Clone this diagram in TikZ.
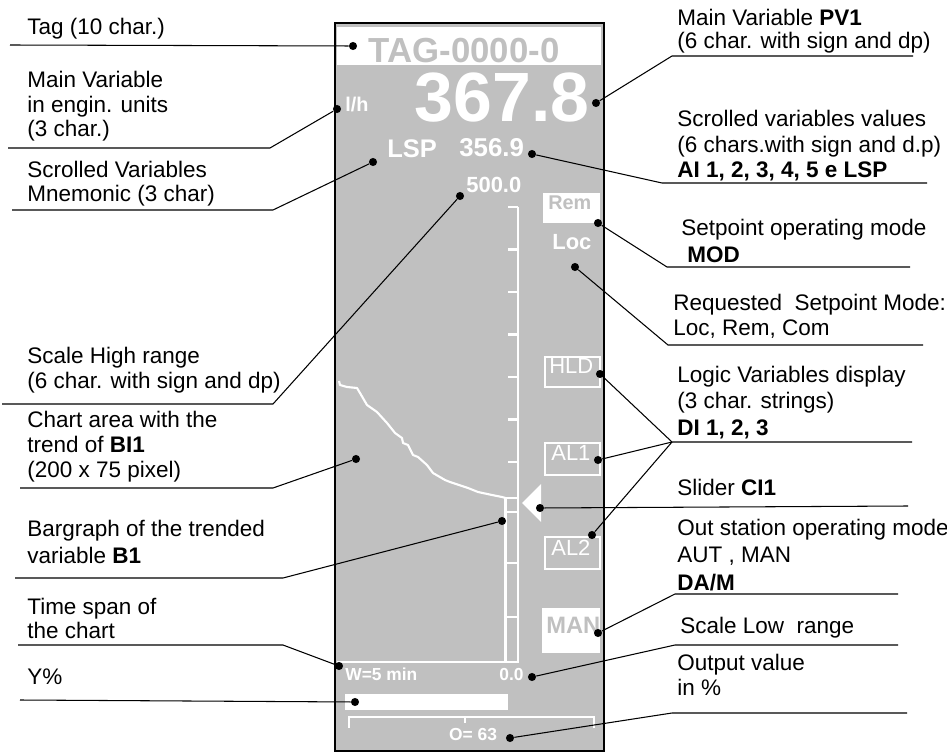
\documentclass[tikz,border=0pt]{standalone}
\usepackage{fontspec}
\setmainfont{Liberation Sans}
\definecolor{panelgrey}{RGB}{192,192,192}
\newcommand{\fsz}[1]{\fontsize{#1}{#1}\selectfont}
\begin{document}
\begin{tikzpicture}[x=0.02cm, y=-0.02cm,
    lbl/.style={anchor=base west, inner sep=0, align=left, font=\fontsize{12.8}{14}\selectfont},
    lead/.style={draw=black, line width=0.6pt},
    dot/.style={circle, fill=black, inner sep=0, minimum size=4.6pt},
    scr/.style={anchor=base west, inner sep=0, text=white},
    wline/.style={draw=white, line width=1.2pt}]
  \useasboundingbox (0,0) rectangle (947,753);
  % Panel
  \filldraw[fill=panelgrey, line width=1.7pt] (335,23) rectangle (604,751);
  \fill[white] (337,27) rectangle (601,65);
  \node[scr, anchor=base, text=panelgrey, font=\bfseries\fsz{19.8}] (tag) at (464,63) {TAG-0000-0};
  \node[scr, anchor=base, font=\bfseries\fsz{39.7}] (pv) at (502,122) {367.8};
  \node[scr, font=\bfseries\fsz{11.3}] (unit) at (345,112) {l/h};
  \node[scr, font=\bfseries\fsz{14.5}] (mnem) at (387,158) {LSP};
  \node[scr, font=\bfseries\fsz{14.7}] (val) at (459,157) {356.9};
  \node[scr, font=\bfseries\fsz{12.5}] (high) at (466,193) {500.0};
  % Setpoint mode
  \fill[white] (543,193) rectangle (600,223);
  \node[scr, text=panelgrey, font=\bfseries\fsz{11.3}] (rem) at (548,210) {Rem};
  \node[scr, font=\bfseries\fsz{12.5}] (loc) at (552,250) {Loc};
  % Scale and bargraph
  \draw[white, line width=1.4pt] (518,207) -- (518,662);
  \draw[wline] (508,207) -- (518,207);
  \draw[wline] (508,249.5) -- (518,249.5);
  \draw[wline] (508,292) -- (518,292);
  \draw[wline] (508,334.5) -- (518,334.5);
  \draw[wline] (508,377) -- (518,377);
  \draw[wline] (508,419.5) -- (518,419.5);
  \draw[wline] (508,462) -- (518,462);
  \draw[wline] (505.5,498) rectangle (518,662);
  \draw[wline] (505.5,512) -- (518,512);
  \draw[wline] (505.5,563) -- (518,563);
  \draw[wline] (505.5,617) -- (518,617);
  \draw[wline] (337,662) -- (518,662);
  % Trend
  \draw[wline, line join=round] (339,381) -- (340,385) -- (347,387) -- (357,388) -- (360,393)
    -- (367,405) -- (377,412) -- (387,423) -- (395,433) -- (402,438) -- (403,443) -- (408,445)
    -- (413,455) -- (418,457) -- (427,465) -- (433,473) -- (445,480) -- (450,482) -- (468,488)
    -- (478,492) -- (492,495) -- (502,497) -- (505.5,498);
  % Slider
  \fill[white] (522,503) -- (541,484) -- (541,522) -- cycle;
  % Logic variables
  \draw[wline] (545,357) rectangle (600,387);
  \node[scr, font=\fsz{12.5}] (hld) at (549,374) {HLD};
  \draw[wline] (545,443) rectangle (600,475);
  \node[scr, font=\fsz{12.5}] (al1) at (551,460) {AL1};
  \draw[wline] (545,537) rectangle (600,569);
  \node[scr, font=\fsz{12.5}] (al2) at (551,555) {AL2};
  % Out mode
  \fill[white] (542,608) rectangle (600,653);
  \node[scr, text=panelgrey, font=\bfseries\fsz{13.5}] (man) at (546,633) {MAN};
  \node[scr, font=\bfseries\fsz{9.9}] (span) at (345,680) {W=5 min};
  \node[scr, font=\bfseries\fsz{9.9}] (low) at (499,680) {0.0};
  % Output
  \fill[white] (345,694) rectangle (508,710);
  \draw[white, line width=1.7pt] (349,728) -- (349,717) -- (594,717) -- (594,728);
  \draw[white, line width=1.7pt] (465,717) -- (465,723);
  \node[scr, anchor=base, font=\bfseries\fsz{9.9}] (out) at (473,740) {O= 63};
  % Labels left (placed at the last baseline)
  \node[lbl] (tTag) at (27,35) {Tag (10 char.)};
  \node[lbl] (tUnit) at (27,137) {Main Variable\\in engin. units\\(3 char.)};
  \node[lbl] (tMnem) at (27,202) {Scrolled Variables\\Mnemonic (3 char)};
  \node[lbl] (tHigh) at (27,388) {Scale High range\\(6 char. with sign and dp)};
  \node[lbl] (tChart) at (27,477) {Chart area with the\\trend of \textbf{BI1}\\(200 x 75 pixel)};
  \node[lbl, font=\fontsize{12.8}{15}\selectfont] (tBar) at (27,563) {Bargraph of the trended\\variable \textbf{B1}};
  \node[lbl, font=\fontsize{12.8}{13.2}\selectfont] (tSpan) at (27,638) {Time span of\\the chart};
  \node[lbl] (tY) at (27,684) {Y\%};
  % Labels right
  \node[lbl, font=\fontsize{12.8}{13.6}\selectfont] (tPV) at (677,49) {Main Variable \textbf{PV1}\\(6 char. with sign and dp)};
  \node[lbl, font=\fontsize{12.8}{14.7}\selectfont] (tVal) at (677,178) {Scrolled variables values\\(6 chars.with sign and d.p)\\\textbf{AI 1, 2, 3, 4, 5 e LSP}};
  \node[lbl, font=\fontsize{12.8}{15.9}\selectfont] (tMod) at (681,263) {Setpoint operating mode\\\hspace*{3.4pt}\textbf{MOD}};
  \node[lbl, font=\fontsize{12.8}{14.7}\selectfont] (tReq) at (673,336) {Requested\ \ Setpoint Mode:\\Loc, Rem, Com};
  \node[lbl, font=\fontsize{12.8}{15}\selectfont] (tLogic) at (677,435) {Logic Variables display\\(3 char. strings)\\\textbf{DI 1, 2, 3}};
  \node[lbl] (tSlider) at (677,495) {Slider \textbf{CI1}};
  \node[lbl, font=\fontsize{12.8}{15.5}\selectfont] (tOut) at (677,590) {Out station operating mode\\AUT , MAN\\\textbf{DA/M}};
  \node[lbl] (tLow) at (680,633) {Scale Low\ \ range};
  \node[lbl] (tOutv) at (677,695) {Output value\\in \%};
  % Dots
  \node[dot] (dTag) at (353,46) {};
  \node[dot] (dUnit) at (337,109) {};
  \node[dot] (dMnem) at (373,162) {};
  \node[dot] (dHigh) at (460,196) {};
  \node[dot] (dChart) at (356,459) {};
  \node[dot] (dBar) at (502,521) {};
  \node[dot] (dSpan) at (339,666) {};
  \node[dot] (dY) at (355,702) {};
  \node[dot] (dPV) at (596,103) {};
  \node[dot] (dVal) at (532,154) {};
  \node[dot] (dMod) at (598,223) {};
  \node[dot] (dReq) at (575,267) {};
  \node[dot] (dHLD) at (600,374) {};
  \node[dot] (dAL1) at (598,460) {};
  \node[dot] (dAL2) at (592,535) {};
  \node[dot] (dSlider) at (540,508) {};
  \node[dot] (dMAN) at (598,633) {};
  \node[dot] (dLow) at (532,677) {};
  \node[dot] (dOut) at (510,738) {};
  % Leader corners
  \coordinate (uTag) at (10,45);
  \coordinate (uUnit) at (8,148);
  \coordinate (kUnit) at (270,148);
  \coordinate (uMnem) at (12,210);
  \coordinate (kMnem) at (273,210);
  \coordinate (uHigh) at (2,404);
  \coordinate (kHigh) at (273,404);
  \coordinate (uChart) at (20,488);
  \coordinate (kChart) at (273,488);
  \coordinate (uBar) at (15,578);
  \coordinate (kBar) at (283,578);
  \coordinate (uSpan) at (18,645);
  \coordinate (kSpan) at (283,645);
  \coordinate (uY) at (20,700);
  \coordinate (uPV) at (913,56);
  \coordinate (kPV) at (672,56);
  \coordinate (uVal) at (927,183);
  \coordinate (kVal) at (662,183);
  \coordinate (uMod) at (910,267);
  \coordinate (kMod) at (667,267);
  \coordinate (uReq) at (923,345);
  \coordinate (kReq) at (668,345);
  \coordinate (uLogic) at (912,442);
  \coordinate (kLogic) at (672,442);
  \coordinate (uSlider) at (908,506);
  \coordinate (uOut) at (898,594);
  \coordinate (kOut) at (675,594);
  \coordinate (uLow) at (898,645);
  \coordinate (kLow) at (675,645);
  \coordinate (uOutv) at (907,713);
  \coordinate (kOutv) at (672,713);
  % Leaders
  \draw[lead] (uTag) -- (dTag);
  \draw[lead] (uUnit) -- (kUnit) -- (dUnit);
  \draw[lead] (uMnem) -- (kMnem) -- (dMnem);
  \draw[lead] (uHigh) -- (kHigh) -- (dHigh);
  \draw[lead] (uChart) -- (kChart) -- (dChart);
  \draw[lead] (uBar) -- (kBar) -- (dBar);
  \draw[lead] (uSpan) -- (kSpan) -- (dSpan);
  \draw[lead] (uY) -- (dY);
  \draw[lead] (uPV) -- (kPV) -- (dPV);
  \draw[lead] (uVal) -- (kVal) -- (dVal);
  \draw[lead] (uMod) -- (kMod) -- (dMod);
  \draw[lead] (uReq) -- (kReq) -- (dReq);
  \draw[lead] (uLogic) -- (kLogic) -- (dHLD);
  \draw[lead] (kLogic) -- (dAL1);
  \draw[lead] (kLogic) -- (dAL2);
  \draw[lead] (uSlider) -- (dSlider);
  \draw[lead] (uOut) -- (kOut) -- (dMAN);
  \draw[lead] (uLow) -- (kLow) -- (dLow);
  \draw[lead] (uOutv) -- (kOutv) -- (dOut);
\end{tikzpicture}
\end{document}
